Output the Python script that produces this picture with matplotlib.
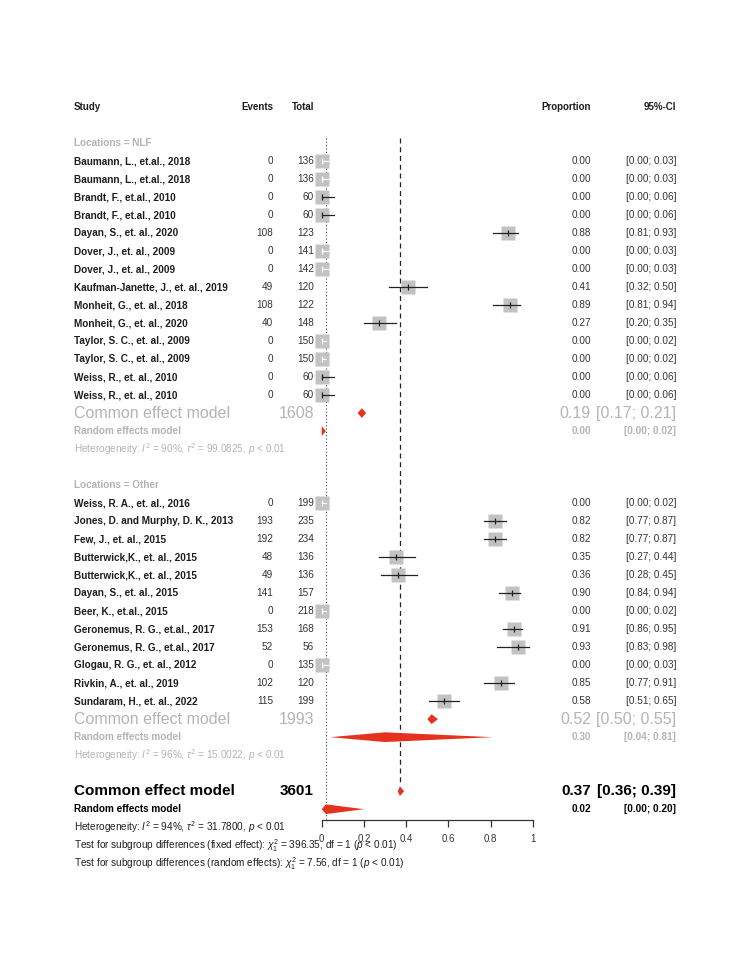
import matplotlib
matplotlib.use('Agg')
import matplotlib.pyplot as plt
import matplotlib.transforms as mtransforms

plt.rcParams['font.family'] = ['Liberation Sans', 'DejaVu Sans']
plt.rcParams['mathtext.fontset'] = 'custom'
plt.rcParams['mathtext.rm'] = 'Liberation Sans'
plt.rcParams['mathtext.it'] = 'Liberation Sans:italic'
plt.rcParams['mathtext.bf'] = 'Liberation Sans:bold'

# ---- data ----
nlf_studies = ['Baumann, L., et.al., 2018', 'Baumann, L., et.al., 2018',
               'Brandt, F., et.al., 2010', 'Brandt, F., et.al., 2010',
               'Dayan, S., et. al., 2020', 'Dover, J., et. al., 2009',
               'Dover, J., et. al., 2009', 'Kaufman-Janette, J., et. al., 2019',
               'Monheit, G., et. al., 2018', 'Monheit, G., et. al., 2020',
               'Taylor, S. C., et. al., 2009', 'Taylor, S. C., et. al., 2009',
               'Weiss, R., et. al., 2010', 'Weiss, R., et. al., 2010']
nlf_events = [0, 0, 0, 0, 108, 0, 0, 49, 108, 40, 0, 0, 0, 0]
nlf_total = [136, 136, 60, 60, 123, 141, 142, 120, 122, 148, 150, 150, 60, 60]
nlf_prop = [0.00, 0.00, 0.00, 0.00, 0.88, 0.00, 0.00, 0.41, 0.89, 0.27, 0.00, 0.00, 0.00, 0.00]
nlf_lo = [0.00, 0.00, 0.00, 0.00, 0.81, 0.00, 0.00, 0.32, 0.81, 0.20, 0.00, 0.00, 0.00, 0.00]
nlf_hi = [0.03, 0.03, 0.06, 0.06, 0.93, 0.03, 0.03, 0.50, 0.94, 0.35, 0.02, 0.02, 0.06, 0.06]
nlf_common = (1608, 0.19, 0.17, 0.21)
nlf_random = (0.00, 0.00, 0.02)
nlf_het = r'Heterogeneity: $I^2$ = 90%, $\tau^2$ = 99.0825, $p$ < 0.01'

oth_studies = ['Weiss, R. A., et. al., 2016', 'Jones, D. and Murphy, D. K., 2013',
               'Few, J., et. al., 2015', 'Butterwick,K., et. al., 2015',
               'Butterwick,K., et. al., 2015', 'Dayan, S., et. al., 2015',
               'Beer, K., et.al., 2015', 'Geronemus, R. G., et.al., 2017',
               'Geronemus, R. G., et.al., 2017', 'Glogau, R. G., et. al., 2012',
               'Rivkin, A., et. al., 2019', 'Sundaram, H., et. al., 2022']
oth_events = [0, 193, 192, 48, 49, 141, 0, 153, 52, 0, 102, 115]
oth_total = [199, 235, 234, 136, 136, 157, 218, 168, 56, 135, 120, 199]
oth_prop = [0.00, 0.82, 0.82, 0.35, 0.36, 0.90, 0.00, 0.91, 0.93, 0.00, 0.85, 0.58]
oth_lo = [0.00, 0.77, 0.77, 0.27, 0.28, 0.84, 0.00, 0.86, 0.83, 0.00, 0.77, 0.51]
oth_hi = [0.02, 0.87, 0.87, 0.44, 0.45, 0.94, 0.02, 0.95, 0.98, 0.03, 0.91, 0.65]
oth_common = (1993, 0.52, 0.50, 0.55)
oth_random = (0.30, 0.04, 0.81)
oth_het = r'Heterogeneity: $I^2$ = 96%, $\tau^2$ = 15.0022, $p$ < 0.01'

all_common = (3601, 0.37, 0.36, 0.39)
all_random = (0.02, 0.00, 0.20)
all_het = r'Heterogeneity: $I^2$ = 94%, $\tau^2$ = 31.7800, $p$ < 0.01'
test_fixed = r'Test for subgroup differences (fixed effect): $\chi^2_1$ = 396.35, df = 1 ($p$ < 0.01)'
test_random = r'Test for subgroup differences (random effects): $\chi^2_1$ = 7.56, df = 1 ($p$ < 0.01)'

groups = [('Locations = NLF', nlf_studies, nlf_events, nlf_total, nlf_prop, nlf_lo, nlf_hi,
           nlf_common, nlf_random, nlf_het),
          ('Locations = Other', oth_studies, oth_events, oth_total, oth_prop, oth_lo, oth_hi,
           oth_common, oth_random, oth_het)]

xticks = [0, 0.2, 0.4, 0.6, 0.8, 1]
xticklabels = ['0', '0.2', '0.4', '0.6', '0.8', '1']

# ---- figure ----
W, H = 750, 971
fig = plt.figure(figsize=(W / 100, H / 100), dpi=100)
y_top, y_bot = -3.5, 36.6
ax = fig.add_axes([321.7 / W, 1 - 820 / H, 211.3 / W, (820 - 98) / H])
ax.set_xlim(0, 1)
ax.set_ylim(y_bot, y_top)
for s in ['top', 'right', 'left']:
    ax.spines[s].set_visible(False)
ax.spines['bottom'].set_linewidth(0.9)
ax.spines['bottom'].set_color('#333333')
ax.set_yticks([])
ax.set_xticks(xticks)
ax.set_xticklabels(xticklabels, fontsize=7, color='#333333')
ax.tick_params(axis='x', length=5, width=0.9, color='#333333', pad=5)

tr = mtransforms.blended_transform_factory(fig.transFigure, ax.transData)

GRAY = '#b4b4b4'
DARK = '#1e1e1e'
RED = '#e5321e'
SQ = '#c2c2c2'

x_study = 74 / W
x_events = 273 / W
x_total = 314 / W
x_prop = 591 / W
x_ci = 676 / W


def txt(x, y, s, ha='left', **kw):
    kw.setdefault('fontsize', 7.2)
    kw.setdefault('color', DARK)
    ax.text(x, y, s, ha=ha, va='center', transform=tr, clip_on=False, **kw)


def diamond(est, lo, hi, y, h=0.27):
    ax.fill([lo, est, hi, est], [y, y - h, y, y + h], color=RED, lw=0, clip_on=False, zorder=4)


# header
row_head = -3
for x, s, ha in [(x_study, 'Study', 'left'), (x_events, 'Events', 'right'),
                 (x_total, 'Total', 'right'), (x_prop, 'Proportion', 'right'),
                 (x_ci, '95%-CI', 'right')]:
    txt(x, row_head, s, ha=ha, fontweight='bold', fontsize=7)

half = 6.5 / 211.3  # half square width in data units
row = -1
for label, studies, ev, tot, prop, lo, hi, com, ran, het in groups:
    txt(x_study, row, label, fontweight='bold', color=GRAY)
    row += 1
    for i in range(len(studies)):
        txt(x_study, row, studies[i], fontweight='bold')
        txt(x_events, row, str(ev[i]), ha='right', color='#333333')
        txt(x_total, row, str(tot[i]), ha='right', color='#333333')
        txt(x_prop, row, '%.2f' % prop[i], ha='right', color='#333333')
        txt(x_ci, row, '[%.2f; %.2f]' % (lo[i], hi[i]), ha='right', color='#333333')
        ax.plot(prop[i], row, marker='s', ms=9.8, color=SQ, mec='none', zorder=2, clip_on=False)
        inside = (hi[i] - prop[i]) <= half and (prop[i] - lo[i]) <= half
        lc = 'white' if inside else '#222222'
        ax.plot([lo[i], hi[i]], [row, row], color=lc, lw=0.9, zorder=3, clip_on=False)
        ax.plot(prop[i], row, marker='|', ms=4, mew=0.9, color=lc, zorder=3, clip_on=False)
        row += 1
    # common effect
    txt(x_study, row, 'Common effect model', fontsize=11.5, color=GRAY)
    txt(x_total, row, str(com[0]), ha='right', fontsize=11.5, color=GRAY)
    txt(x_prop, row, '%.2f' % com[1], ha='right', fontsize=11.5, color=GRAY)
    txt(x_ci, row, '[%.2f; %.2f]' % (com[2], com[3]), ha='right', fontsize=11.5, color=GRAY)
    diamond(com[1], com[2], com[3], row)
    row += 1
    txt(x_study, row, 'Random effects model', fontweight='bold', color=GRAY)
    txt(x_prop, row, '%.2f' % ran[0], ha='right', fontweight='bold', color=GRAY)
    txt(x_ci, row, '[%.2f; %.2f]' % (ran[1], ran[2]), ha='right', fontweight='bold', color=GRAY)
    diamond(ran[0], ran[1], ran[2], row)
    row += 1
    txt(x_study, row, het, color=GRAY)
    row += 2

# overall
row_all = row
txt(x_study, row_all, 'Common effect model', fontsize=11, fontweight='bold', color='black')
txt(x_total, row_all, str(all_common[0]), ha='right', fontsize=11, fontweight='bold', color='black')
txt(x_prop, row_all, '%.2f' % all_common[1], ha='right', fontsize=11, fontweight='bold', color='black')
txt(x_ci, row_all, '[%.2f; %.2f]' % (all_common[2], all_common[3]), ha='right', fontsize=11,
    fontweight='bold', color='black')
diamond(all_common[1], all_common[2], all_common[3], row_all)
txt(x_study, row_all + 1, 'Random effects model', fontweight='bold', color='black')
txt(x_prop, row_all + 1, '%.2f' % all_random[0], ha='right', fontweight='bold', color='black')
txt(x_ci, row_all + 1, '[%.2f; %.2f]' % (all_random[1], all_random[2]), ha='right',
    fontweight='bold', color='black')
diamond(all_random[0], all_random[1], all_random[2], row_all + 1)
txt(x_study, row_all + 2, all_het)
txt(x_study, row_all + 3, test_fixed)
txt(x_study, row_all + 4, test_random)

# reference lines: common (dashed) and random (dotted)
ax.plot([all_common[1], all_common[1]], [-1.3, row_all - 0.35], color='#222222', lw=0.9,
        ls=(0, (4, 3)), zorder=1, clip_on=False)
ax.plot([all_random[0], all_random[0]], [-1.3, y_bot], color='#444444', lw=0.8,
        ls=(0, (1, 2)), zorder=1, clip_on=False)

fig.savefig('out.png', dpi=100, facecolor='white')
